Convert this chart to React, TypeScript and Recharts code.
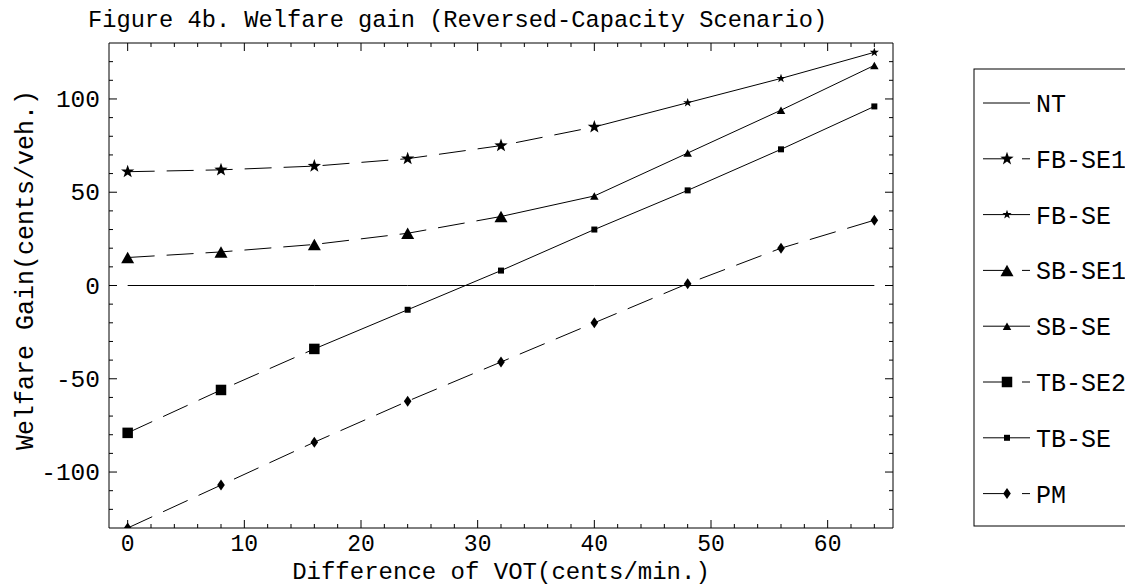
import React from 'react';
import { LineChart, Line, XAxis, YAxis, Label } from 'recharts';

// VOT differences (cents/min.) and welfare gains (cents/veh.)
const vot = [0, 8, 16, 24, 32, 40, 48, 56, 64];
const ntGain = [0, 0, 0, 0, 0, 0, 0, 0, 0];
const fbGain = [61, 62, 64, 68, 75, 85, 98, 111, 125];
const sbGain = [15, 18, 22, 28, 37, 48, 71, 94, 118];
const tbGain = [-79, -56, -34, -13, 8, 30, 51, 73, 96];
const pmGain = [-130, -107, -84, -62, -41, -20, 1, 20, 35];

const xMajor = [0, 10, 20, 30, 40, 50, 60];
const xTicks = [0, 2, 4, 6, 8, 10, 12, 14, 16, 18, 20, 22, 24, 26, 28, 30, 32, 34, 36, 38, 40, 42, 44, 46, 48, 50, 52, 54, 56, 58, 60, 62, 64];
const yMajor = [-100, -50, 0, 50, 100];
const yTicks = [-120, -110, -100, -90, -80, -70, -60, -50, -40, -30, -20, -10, 0, 10, 20, 30, 40, 50, 60, 70, 80, 90, 100, 110, 120];

const FONT = '"Liberation Mono", "Courier New", monospace';
const DASH = '27 12';

type Marker = 'none' | 'starL' | 'starS' | 'triL' | 'triS' | 'sqL' | 'sqS' | 'diamond';

// first/last are index ranges into vot
const seriesDefs: { name: string; values: number[]; first: number; last: number; dashed: boolean; marker: Marker }[] = [
    { name: 'NT', values: ntGain, first: 0, last: 8, dashed: false, marker: 'none' },
    { name: 'FB-SE1', values: fbGain, first: 0, last: 5, dashed: true, marker: 'starL' },
    { name: 'FB-SE', values: fbGain, first: 5, last: 8, dashed: false, marker: 'starS' },
    { name: 'SB-SE1', values: sbGain, first: 0, last: 4, dashed: true, marker: 'triL' },
    { name: 'SB-SE', values: sbGain, first: 4, last: 8, dashed: false, marker: 'triS' },
    { name: 'TB-SE2', values: tbGain, first: 0, last: 2, dashed: true, marker: 'sqL' },
    { name: 'TB-SE', values: tbGain, first: 2, last: 8, dashed: false, marker: 'sqS' },
    { name: 'PM', values: pmGain, first: 0, last: 8, dashed: true, marker: 'diamond' },
];

const star = (cx: number, cy: number, r: number) => {
    const pts: string[] = [];
    for (let k = 0; k < 10; k++) {
        const rad = k % 2 === 0 ? r : r * 0.4;
        const a = -Math.PI / 2 + (k * Math.PI) / 5;
        pts.push(`${cx + rad * Math.cos(a)},${cy + rad * Math.sin(a)}`);
    }
    return 'M' + pts.join('L') + 'Z';
};

const tri = (cx: number, cy: number, w: number, h: number) =>
    `M${cx},${cy - h / 2}L${cx + w / 2},${cy + h / 2}L${cx - w / 2},${cy + h / 2}Z`;

const sq = (cx: number, cy: number, s: number) =>
    `M${cx - s / 2},${cy - s / 2}h${s}v${s}h${-s}Z`;

const markerPath = (kind: Marker, cx: number, cy: number) => {
    switch (kind) {
        case 'starL': return star(cx, cy, 7);
        case 'starS': return star(cx, cy, 4.8);
        case 'triL': return tri(cx, cy, 13, 11.5);
        case 'triS': return tri(cx, cy, 8.5, 7.5);
        case 'sqL': return sq(cx, cy, 10.5);
        case 'sqS': return sq(cx, cy, 6);
        case 'diamond': return `M${cx},${cy - 5.5}L${cx + 3.8},${cy}L${cx},${cy + 5.5}L${cx - 3.8},${cy}Z`;
        default: return '';
    }
};

const makeDot = (kind: Marker) => (props: any) => {
    const { cx, cy, index } = props;
    if (cx == null || cy == null) return <g key={`${kind}-${index}`} />;
    return <path key={`${kind}-${index}`} d={markerPath(kind, cx, cy)} fill="#000" />;
};

const BottomTick = (props: any) => {
    const { x, y, payload } = props;
    const major = xMajor.includes(payload.value);
    return (
        <g>
            <line x1={x} y1={y} x2={x} y2={y - (major ? 8 : 4)} stroke="#000" />
            {major && (
                <text x={x} y={y + 23} textAnchor="middle" fontFamily={FONT} fontSize={23} fill="#000">
                    {payload.value}
                </text>
            )}
        </g>
    );
};

const TopTick = (props: any) => {
    const { x, y, payload } = props;
    const major = xMajor.includes(payload.value);
    return <line x1={x} y1={y} x2={x} y2={y + (major ? 8 : 4)} stroke="#000" />;
};

const LeftTick = (props: any) => {
    const { x, y, payload } = props;
    const major = yMajor.includes(payload.value);
    return (
        <g>
            <line x1={x} y1={y} x2={x + (major ? 8 : 4)} y2={y} stroke="#000" />
            {major && (
                <text x={x - 9} y={y + 8} textAnchor="end" fontFamily={FONT} fontSize={24.5} fill="#000">
                    {payload.value}
                </text>
            )}
        </g>
    );
};

const RightTick = (props: any) => {
    const { x, y, payload } = props;
    const major = yMajor.includes(payload.value);
    return <line x1={x} y1={y} x2={x - (major ? 8 : 4)} y2={y} stroke="#000" />;
};

export default function App() {
    const lines = seriesDefs.map((s) => ({
        ...s,
        data: vot.slice(s.first, s.last + 1).map((v, i) => ({ x: v, y: s.values[s.first + i] })),
    }));

    return (
        <div style={{ position: 'relative', width: 1125, height: 577, overflow: 'hidden', background: '#fff' }}>
            <LineChart width={1125} height={577} margin={{ top: 34, right: 239, bottom: 0, left: 0 }}>
                <XAxis
                    xAxisId="bottom"
                    dataKey="x"
                    type="number"
                    domain={[-1.6, 65.6]}
                    ticks={xTicks}
                    interval={0}
                    height={57}
                    tickSize={0}
                    tickMargin={0}
                    tickLine={false}
                    axisLine={{ stroke: '#000' }}
                    tick={<BottomTick />}
                    allowDataOverflow
                >
                    <Label
                        content={({ viewBox }: any) => (
                            <text
                                x={viewBox.x + viewBox.width / 2}
                                y={viewBox.y + 51}
                                textAnchor="middle"
                                fontFamily={FONT}
                                fontSize={24}
                                fill="#000"
                            >
                                Difference of VOT(cents/min.)
                            </text>
                        )}
                    />
                </XAxis>
                <XAxis
                    xAxisId="top"
                    orientation="top"
                    dataKey="x"
                    type="number"
                    domain={[-1.6, 65.6]}
                    ticks={xTicks}
                    interval={0}
                    height={1}
                    tickSize={0}
                    tickMargin={0}
                    tickLine={false}
                    axisLine={{ stroke: '#000' }}
                    tick={<TopTick />}
                    allowDataOverflow
                />
                <YAxis
                    yAxisId="left"
                    type="number"
                    domain={[-130, 130]}
                    ticks={yTicks}
                    interval={0}
                    width={101}
                    tickSize={0}
                    tickMargin={0}
                    tickLine={false}
                    axisLine={{ stroke: '#000' }}
                    tick={<LeftTick />}
                    allowDataOverflow
                >
                    <Label
                        content={() => (
                            <text
                                x={25}
                                y={262}
                                transform="rotate(-90, 25, 262)"
                                textAnchor="middle"
                                fontFamily={FONT}
                                fontSize={25}
                                fill="#000"
                            >
                                Welfare Gain(cents/veh.)
                            </text>
                        )}
                    />
                </YAxis>
                <YAxis
                    yAxisId="right"
                    orientation="right"
                    type="number"
                    domain={[-130, 130]}
                    ticks={yTicks}
                    interval={0}
                    width={1}
                    tickSize={0}
                    tickMargin={0}
                    tickLine={false}
                    axisLine={{ stroke: '#000' }}
                    tick={<RightTick />}
                    allowDataOverflow
                />
                {/* small-marker continuations first so the large markers sit on top */}
                {[...lines].reverse().map((s) => (
                    <Line
                        key={s.name}
                        name={s.name}
                        data={s.data}
                        dataKey="y"
                        xAxisId="bottom"
                        yAxisId="left"
                        type="linear"
                        stroke="#000"
                        strokeWidth={1}
                        strokeDasharray={s.dashed ? DASH : undefined}
                        dot={s.marker === 'none' ? false : makeDot(s.marker)}
                        activeDot={false}
                        legendType="none"
                        isAnimationActive={false}
                    />
                ))}
            </LineChart>

            <svg width={1125} height={577} style={{ position: 'absolute', left: 0, top: 0, pointerEvents: 'none' }}>
                <text x={80} y={19} fontFamily={FONT} fontSize={23.7} fill="#000">
                    Figure 4b. Welfare gain (Reversed-Capacity Scenario)
                </text>
                <rect x={966} y={61} width={220} height={457} fill="#fff" stroke="#000" />
                {seriesDefs.map((s, i) => {
                    const cy = 95 + i * 55.8;
                    return (
                        <g key={s.name}>
                            <line x1={975} y1={cy} x2={1022} y2={cy} stroke="#000" strokeDasharray={s.dashed ? DASH : undefined} />
                            {s.marker !== 'none' && <path d={markerPath(s.marker, 999, cy)} fill="#000" />}
                            <text x={1028} y={cy + 9} fontFamily={FONT} fontSize={25} fill="#000">
                                {s.name}
                            </text>
                        </g>
                    );
                })}
            </svg>
        </div>
    );
}
